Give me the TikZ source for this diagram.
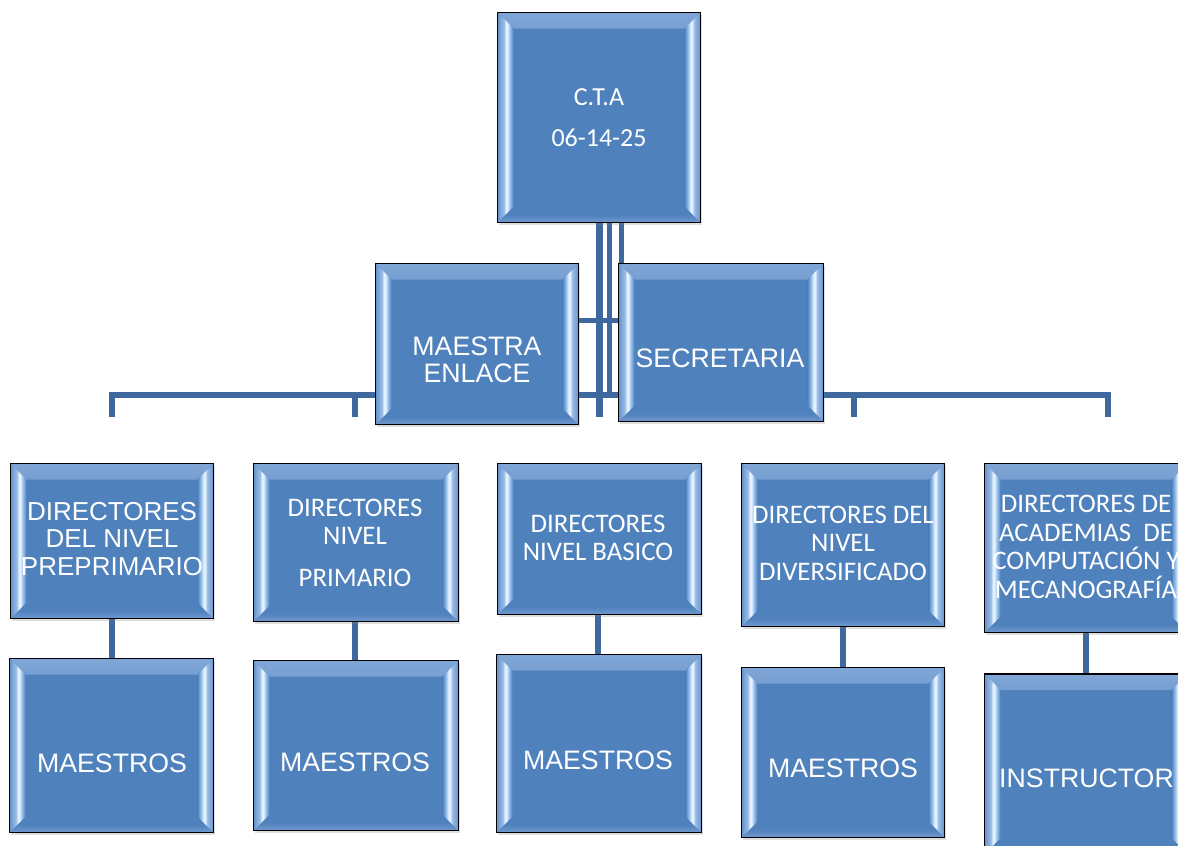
\documentclass[tikz,border=0pt]{standalone}
\usepackage{fontspec}
\newfontfamily\arialf{Liberation Sans}
\newfontfamily\calf{Carlito}
\usetikzlibrary{calc,shadows,backgrounds}
\definecolor{bxc}{RGB}{79,129,189}
\definecolor{bvA}{RGB}{100,146,205}
\definecolor{bvB}{RGB}{226,241,255}
\definecolor{bvC}{RGB}{150,190,234}
\colorlet{bvAB}{bvA!55!bvB}
\definecolor{topc}{RGB}{128,166,214}
\definecolor{botc}{RGB}{112,152,206}
\definecolor{lnc}{RGB}{62,104,158}
\pgfdeclarehorizontalshading{bevL}{100bp}{color(0bp)=(bvA); color(25bp)=(bvA); color(45bp)=(bvAB); color(51bp)=(bvB); color(56bp)=(bvB); color(64bp)=(bvC); color(75bp)=(bxc); color(100bp)=(bxc)}
\pgfdeclarehorizontalshading{bevR}{100bp}{color(0bp)=(bxc); color(25bp)=(bxc); color(36bp)=(bvC); color(44bp)=(bvB); color(49bp)=(bvB); color(55bp)=(bvAB); color(75bp)=(bvA); color(100bp)=(bvA)}
\tikzset{
  orgbox/.style={draw=black, line width=1.6pt, fill=bxc, inner sep=0pt,
    drop shadow={opacity=0.25, shadow xshift=1.5pt, shadow yshift=-2pt},
    path picture={
      \shade[top color=topc, bottom color=bxc, middle color=bxc]
        (path picture bounding box.north west) -- (path picture bounding box.north east)
        -- ([shift={(-16pt,-16pt)}]path picture bounding box.north east)
        -- ([shift={(16pt,-16pt)}]path picture bounding box.north west) -- cycle;
      \shade[top color=bxc, bottom color=botc, middle color=bxc]
        (path picture bounding box.south west) -- (path picture bounding box.south east)
        -- ([shift={(-16pt,16pt)}]path picture bounding box.south east)
        -- ([shift={(16pt,16pt)}]path picture bounding box.south west) -- cycle;
      \shade[shading=bevL]
        (path picture bounding box.north west)
        -- ([shift={(16pt,-16pt)}]path picture bounding box.north west)
        -- ([shift={(16pt,16pt)}]path picture bounding box.south west)
        -- (path picture bounding box.south west) -- cycle;
      \shade[shading=bevR]
        (path picture bounding box.north east)
        -- ([shift={(-16pt,-16pt)}]path picture bounding box.north east)
        -- ([shift={(-16pt,16pt)}]path picture bounding box.south east)
        -- (path picture bounding box.south east) -- cycle;
    }},
  lbl/.style={text=white, align=center, inner sep=0pt},
  conn/.style={draw=lnc, line width=5.5pt},
}
\begin{document}
\begin{tikzpicture}[x=1pt,y=-1pt]
\useasboundingbox (0,0) rectangle (1178,846);
% junction coordinates
\coordinate (j1) at (112,417);
\coordinate (j2) at (355,417);
\coordinate (j3) at (599.5,417);
\coordinate (j4) at (854,417);
\coordinate (j5) at (1108,417);
\coordinate (bl) at (112,395);
\coordinate (br) at (1108,395);
\coordinate (k2) at (609.5,393);
\coordinate (k3) at (621,300);
\coordinate (as) at (600,320);
\coordinate (v2) at (355,600);
\coordinate (v3) at (598,600);
% top boxes
\node[orgbox, minimum width=203pt, minimum height=210pt] (cta) at (599,117.5) {};
\node[orgbox, minimum width=203pt, minimum height=161pt] (enl) at (477,344) {};
\node[orgbox, minimum width=205pt, minimum height=158pt] (sec) at (721,342.5) {};
% directors
\node[orgbox, minimum width=203pt, minimum height=155pt] (d1) at (112,541) {};
\node[orgbox, minimum width=205pt, minimum height=158pt] (d2) at (356,542.5) {};
\node[orgbox, minimum width=204pt, minimum height=151pt] (d3) at (599.5,539) {};
\node[orgbox, minimum width=203pt, minimum height=163pt] (d4) at (843,545) {};
\node[orgbox, minimum width=203pt, minimum height=169pt] (d5) at (1086,548) {};
% teachers
\node[orgbox, minimum width=204pt, minimum height=174pt] (m1) at (111.5,745.5) {};
\node[orgbox, minimum width=205pt, minimum height=170pt] (m2) at (356,745.5) {};
\node[orgbox, minimum width=205pt, minimum height=178pt] (m3) at (599,743.5) {};
\node[orgbox, minimum width=203pt, minimum height=170pt] (m4) at (843,752.5) {};
\node[orgbox, minimum width=203pt, minimum height=180pt] (m5) at (1086,764) {};
% connectors
\begin{scope}[on background layer]
\draw[conn] (j1) -- (bl) -- (br) -- (j5);
\draw[conn] (j2) -- (j2 |- bl);
\draw[conn] (j4) -- (j4 |- bl);
\draw[conn, line width=7pt] (j3 |- cta.south) -- (j3);
\draw[conn, line width=5pt] (k2 |- cta.south) -- (k2);
\draw[conn, line width=5pt] (k3 |- cta.south) -- (k3 |- sec.north);
\draw[conn, line width=5pt] (enl.east |- as) -- (sec.west |- as);
\draw[conn, line width=6pt] (d1.south -| j1) -- (m1.north -| j1);
\draw[conn, line width=6pt] (v2 |- d2.south) -- (v2 |- m2.north);
\draw[conn, line width=6pt] (v3 |- d3.south) -- (v3 |- m3.north);
\draw[conn, line width=6pt] (d4.south) -- (d4.south |- m4.north);
\draw[conn, line width=6pt] (d5.south) -- (d5.south |- m5.north);
\end{scope}
% texts
\node[lbl, font=\calf\fontsize{26}{30}\selectfont] (tcta) at (599,117.5) {C.T.A\\[11pt]06-14-25};
\node[lbl, font=\arialf\fontsize{26.7}{27}\selectfont] (tenl) at (477,360) {MAESTRA\\ENLACE};
\node[lbl, font=\arialf\fontsize{26.7}{27}\selectfont] (tsec) at (720,358.5) {SECRETARIA};
\node[lbl, font=\arialf\fontsize{26}{27.5}\selectfont] (td1) at (112,538.8) {DIRECTORES\\DEL NIVEL\\PREPRIMARIO};
\node[lbl, font=\calf\fontsize{26.8}{28}\selectfont] (td2) at (355,542.5) {DIRECTORES\\NIVEL\\[14pt]PRIMARIO};
\node[lbl, font=\calf\fontsize{26.8}{28}\selectfont] (td3) at (598,537.8) {DIRECTORES\\NIVEL BASICO};
\node[lbl, font=\calf\fontsize{26.8}{28.5}\selectfont] (td4) at (843,543.3) {DIRECTORES DEL\\NIVEL\\DIVERSIFICADO};
\node[lbl, font=\calf\fontsize{26.8}{28.7}\selectfont] (td5) at (1086,546.8) {DIRECTORES DE\\ACADEMIAS~~DE\\COMPUTACIÓN Y\\MECANOGRAFÍA};
\node[lbl, font=\arialf\fontsize{26.7}{28}\selectfont] (tm1) at (112,763.7) {MAESTROS};
\node[lbl, font=\arialf\fontsize{26.7}{28}\selectfont] (tm2) at (355,762.7) {MAESTROS};
\node[lbl, font=\arialf\fontsize{26.7}{28}\selectfont] (tm3) at (598,760.7) {MAESTROS};
\node[lbl, font=\arialf\fontsize{26.7}{28}\selectfont] (tm4) at (843,768.7) {MAESTROS};
\node[lbl, font=\arialf\fontsize{26.7}{28}\selectfont] (tm5) at (1086.5,778.7) {INSTRUCTOR};
\end{tikzpicture}
\end{document}
